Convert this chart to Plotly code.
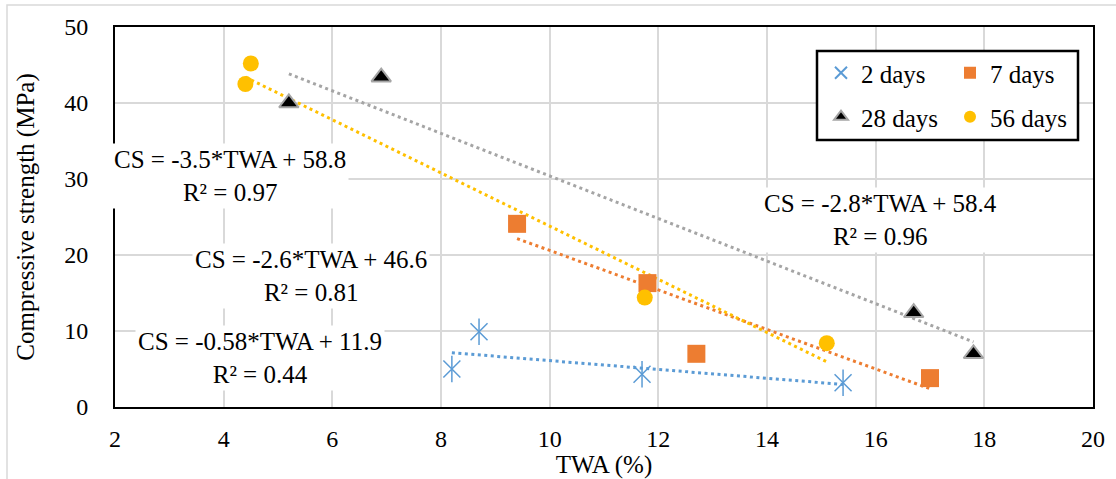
import plotly.graph_objects as go

# ---- data ----
twa_2d = [8.2, 8.7, 11.7, 15.4]
cs_2d = [5.0, 9.9, 4.3, 3.2]
twa_7d = [9.4, 11.8, 12.7, 17.0]
cs_7d = [24.1, 16.3, 7.0, 3.8]
twa_28d = [5.2, 6.9, 16.7, 17.8]
cs_28d = [40.0, 43.4, 12.4, 7.0]
twa_56d = [4.5, 4.4, 11.75, 15.1]
cs_56d = [45.2, 42.5, 14.4, 8.4]

series_names = ["2 days", "7 days", "28 days", "56 days"]
fit_slopes = [-0.58, -2.6, -2.8, -3.5]
fit_intercepts = [11.9, 46.6, 58.4, 58.8]
fit_r2 = [0.44, 0.81, 0.96, 0.97]

x_ticks = [2, 4, 6, 8, 10, 12, 14, 16, 18, 20]
y_ticks = [0, 10, 20, 30, 40, 50]

# ---- styles ----
FONT = "Liberation Serif"
colors = ["#5B9BD5", "#ED7D31", "#A5A5A5", "#FFC000"]
xs = [twa_2d, twa_7d, twa_28d, twa_56d]
ys = [cs_2d, cs_7d, cs_28d, cs_56d]
markers = [
    dict(symbol="x-thin-open", size=17, color=colors[0], line=dict(color=colors[0], width=1.5)),
    dict(symbol="square", size=18, color=colors[1], line=dict(width=0)),
    dict(symbol="triangle-up", size=17, color="#000000", line=dict(color="#A5A5A5", width=2)),
    dict(symbol="circle", size=16, color=colors[3], line=dict(width=0)),
]
legend_ids = ["legend", "legend", "legend2", "legend2"]

fig = go.Figure()

# trendlines
for i in range(4):
    x0, x1 = min(xs[i]), max(xs[i])
    fig.add_trace(go.Scatter(
        x=[x0, x1],
        y=[fit_slopes[i] * x0 + fit_intercepts[i], fit_slopes[i] * x1 + fit_intercepts[i]],
        mode="lines", line=dict(color=colors[i], width=3, dash="3px,3.5px"),
        showlegend=False, hoverinfo="skip"))

# vertical stroke of the 2-day asterisk markers
fig.add_trace(go.Scatter(
    x=twa_2d, y=cs_2d, mode="markers", showlegend=False, hoverinfo="skip",
    marker=dict(symbol="line-ns-open", size=19, color=colors[0],
                line=dict(color=colors[0], width=1.5))))

# points
for i in range(4):
    fig.add_trace(go.Scatter(
        x=xs[i], y=ys[i], mode="markers", name=series_names[i],
        marker=markers[i], legend=legend_ids[i]))

# equation labels
ann_pos = [(4.67, 6.45), (5.61, 17.2), (16.08, 24.6), (4.12, 30.4)]
for i in range(4):
    s = fit_slopes[i]
    txt = f"CS = {s:g}*TWA + {fit_intercepts[i]:g}<br>R² = {fit_r2[i]:.2f}"
    fig.add_annotation(x=ann_pos[i][0], y=ann_pos[i][1], xref="x", yref="y",
                       text=txt, showarrow=False, align="center",
                       font=dict(family=FONT, size=25, color="black"),
                       bgcolor="white", borderpad=2)

# chart area border (light gray) and legend box
W, H = 1116, 479
L, R, T, B = 115, 23, 27, 72
pw, ph = W - L - R, H - T - B
def px2paper_x(px): return (px - L) / pw
def px2paper_y(py): return (H - B - py) / ph

fig.add_shape(type="rect", xref="paper", yref="paper",
              x0=px2paper_x(7), x1=px2paper_x(1130), y0=px2paper_y(5), y1=px2paper_y(495),
              line=dict(color="#D9D9D9", width=1.5), fillcolor="rgba(0,0,0,0)", layer="below")
fig.add_shape(type="rect", xref="paper", yref="paper",
              x0=px2paper_x(817), x1=px2paper_x(1078), y0=px2paper_y(51), y1=px2paper_y(140),
              line=dict(color="black", width=2.5), fillcolor="white", layer="above")

legend_common = dict(orientation="h", xanchor="left", yanchor="middle",
                     bgcolor="rgba(0,0,0,0)", borderwidth=0, itemsizing="constant",
                     entrywidth=84, entrywidthmode="pixels",
                     font=dict(family=FONT, size=25, color="black"))

fig.update_layout(
    width=W, height=H,
    margin=dict(l=L, r=R, t=T, b=B, autoexpand=False),
    plot_bgcolor="white", paper_bgcolor="white",
    font=dict(family=FONT, size=24, color="black"),
    legend=dict(x=px2paper_x(821), y=px2paper_y(73), **legend_common),
    legend2=dict(x=px2paper_x(821), y=px2paper_y(117), **legend_common),
    xaxis=dict(range=[2, 20], tickvals=x_ticks, showgrid=True, gridcolor="#D9D9D9", gridwidth=1.5,
               showline=True, linecolor="black", linewidth=2, mirror=True, zeroline=False,
               ticks="", ticklabelstandoff=9,
               tickfont=dict(family=FONT, size=24),
               title=dict(text="TWA (%)", font=dict(family=FONT, size=25), standoff=9)),
    yaxis=dict(range=[0, 50], tickvals=y_ticks, showgrid=True, gridcolor="#D9D9D9", gridwidth=1.5,
               showline=True, linecolor="black", linewidth=2, mirror=True, zeroline=False,
               ticks="", ticklabelstandoff=20,
               tickfont=dict(family=FONT, size=24),
               title=dict(text="Compressive strength (MPa)", font=dict(family=FONT, size=25), standoff=22)),
)

fig.write_html("out.html")
